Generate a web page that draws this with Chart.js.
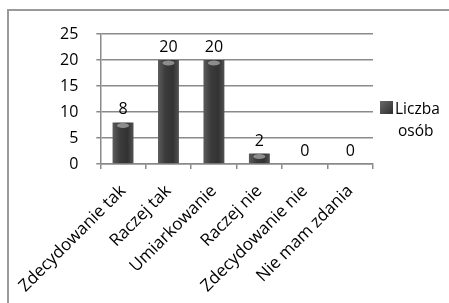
<!DOCTYPE html>
<html>
<head>
<meta charset="utf-8">
<script src="https://cdn.jsdelivr.net/npm/chart.js@4.4.0/dist/chart.umd.min.js"></script>
<style>
  html, body { margin: 0; padding: 0; background: #fff; }
  #wrap { position: relative; width: 449px; height: 303px; overflow: hidden; }
  #frame { position: absolute; left: 7px; top: 9px; width: 480px; height: 340px; border: 2px solid #9a9a9a; }
  #chart { position: absolute; left: 0; top: 0; }
</style>
</head>
<body>
<div id="wrap">
  <div id="frame"></div>
  <canvas id="chart" width="449" height="303"></canvas>
</div>
<script>
// Dane z wykresu
const categories = ['Zdecydowanie tak', 'Raczej tak', 'Umiarkowanie', 'Raczej nie', 'Zdecydowanie nie', 'Nie mam zdania'];
const counts = [8, 20, 20, 2, 0, 0];
const yTicks = [0, 5, 10, 15, 20, 25];
const seriesName = ['Liczba', 'osób'];

const FONT = "'Open Sans', 'Noto Sans', sans-serif";

// gradient "walca" dla kazdego slupka
function barFill(context) {
  const chart = context.chart;
  const xs = chart.scales.x;
  if (!xs || context.dataIndex === undefined) return '#3a3a3a';
  const cx = xs.getPixelForValue(context.dataIndex);
  if (!Number.isFinite(cx)) return '#3a3a3a';
  const half = 11;
  const g = chart.ctx.createLinearGradient(cx - half, 0, cx + half, 0);
  g.addColorStop(0, '#5e5e5e');
  g.addColorStop(0.35, '#3c3c3c');
  g.addColorStop(0.7, '#323232');
  g.addColorStop(1, '#555555');
  return g;
}

const valueLabels = {
  id: 'valueLabels',
  afterDatasetsDraw(chart) {
    const ctx = chart.ctx;
    const meta = chart.getDatasetMeta(0);
    ctx.save();
    meta.data.forEach((bar, i) => {
      if (counts[i] > 0) {
        // jasniejsza "czapka" na gorze slupka
        ctx.fillStyle = 'rgba(170,170,170,0.75)';
        ctx.beginPath();
        ctx.ellipse(bar.x, bar.y + 3, 6, 2.5, 0, 0, Math.PI * 2);
        ctx.fill();
      }
      ctx.fillStyle = '#000';
      ctx.font = '16px ' + FONT;
      ctx.textAlign = 'center';
      ctx.textBaseline = 'alphabetic';
      ctx.fillText(String(counts[i]), bar.x, bar.y - 8);
    });
    ctx.restore();
  }
};

const sideLegend = {
  id: 'sideLegend',
  afterDraw(chart) {
    const ctx = chart.ctx;
    const a = chart.chartArea;
    const bx = a.right + 7, by = a.top + 67;
    ctx.save();
    const g = ctx.createLinearGradient(bx, by, bx + 13, by + 13);
    g.addColorStop(0, '#6a6a6a');
    g.addColorStop(1, '#2e2e2e');
    ctx.fillStyle = g;
    ctx.fillRect(bx, by, 13, 13);
    ctx.fillStyle = '#000';
    ctx.font = '15.5px ' + FONT;
    ctx.textAlign = 'left';
    ctx.textBaseline = 'alphabetic';
    ctx.fillText(seriesName[0], bx + 15, by + 13);
    ctx.fillText(seriesName[1], bx + 18, by + 35);
    ctx.restore();
  }
};

new Chart(document.getElementById('chart'), {
  type: 'bar',
  data: {
    labels: categories,
    datasets: [{
      label: seriesName.join(' '),
      data: counts,
      backgroundColor: barFill,
      borderWidth: 0,
      categoryPercentage: 1,
      barPercentage: 0.46
    }]
  },
  options: {
    responsive: false,
    animation: false,
    layout: { padding: { left: 42, right: 76, top: 34, bottom: 9 } },
    plugins: {
      legend: { display: false },
      tooltip: { enabled: false }
    },
    scales: {
      x: {
        grid: {
          display: true,
          drawOnChartArea: false,
          drawTicks: true,
          tickLength: 5,
          color: '#8a8a8a',
          lineWidth: 1.5
        },
        border: { display: true, color: '#8a8a8a', width: 1.5 },
        ticks: {
          color: '#000',
          font: { family: FONT, size: 17 },
          minRotation: 45,
          maxRotation: 45,
          padding: 12,
          autoSkip: false
        }
      },
      y: {
        min: 0,
        max: 25,
        afterBuildTicks(axis) { axis.ticks = yTicks.map(v => ({ value: v })); },
        grid: {
          color: '#8a8a8a',
          lineWidth: 1.5,
          tickLength: 4
        },
        border: { display: true, color: '#8a8a8a', width: 1.5 },
        ticks: {
          color: '#000',
          font: { family: FONT, size: 16 },
          padding: 18
        }
      }
    }
  },
  plugins: [valueLabels, sideLegend]
});
</script>
</body>
</html>
